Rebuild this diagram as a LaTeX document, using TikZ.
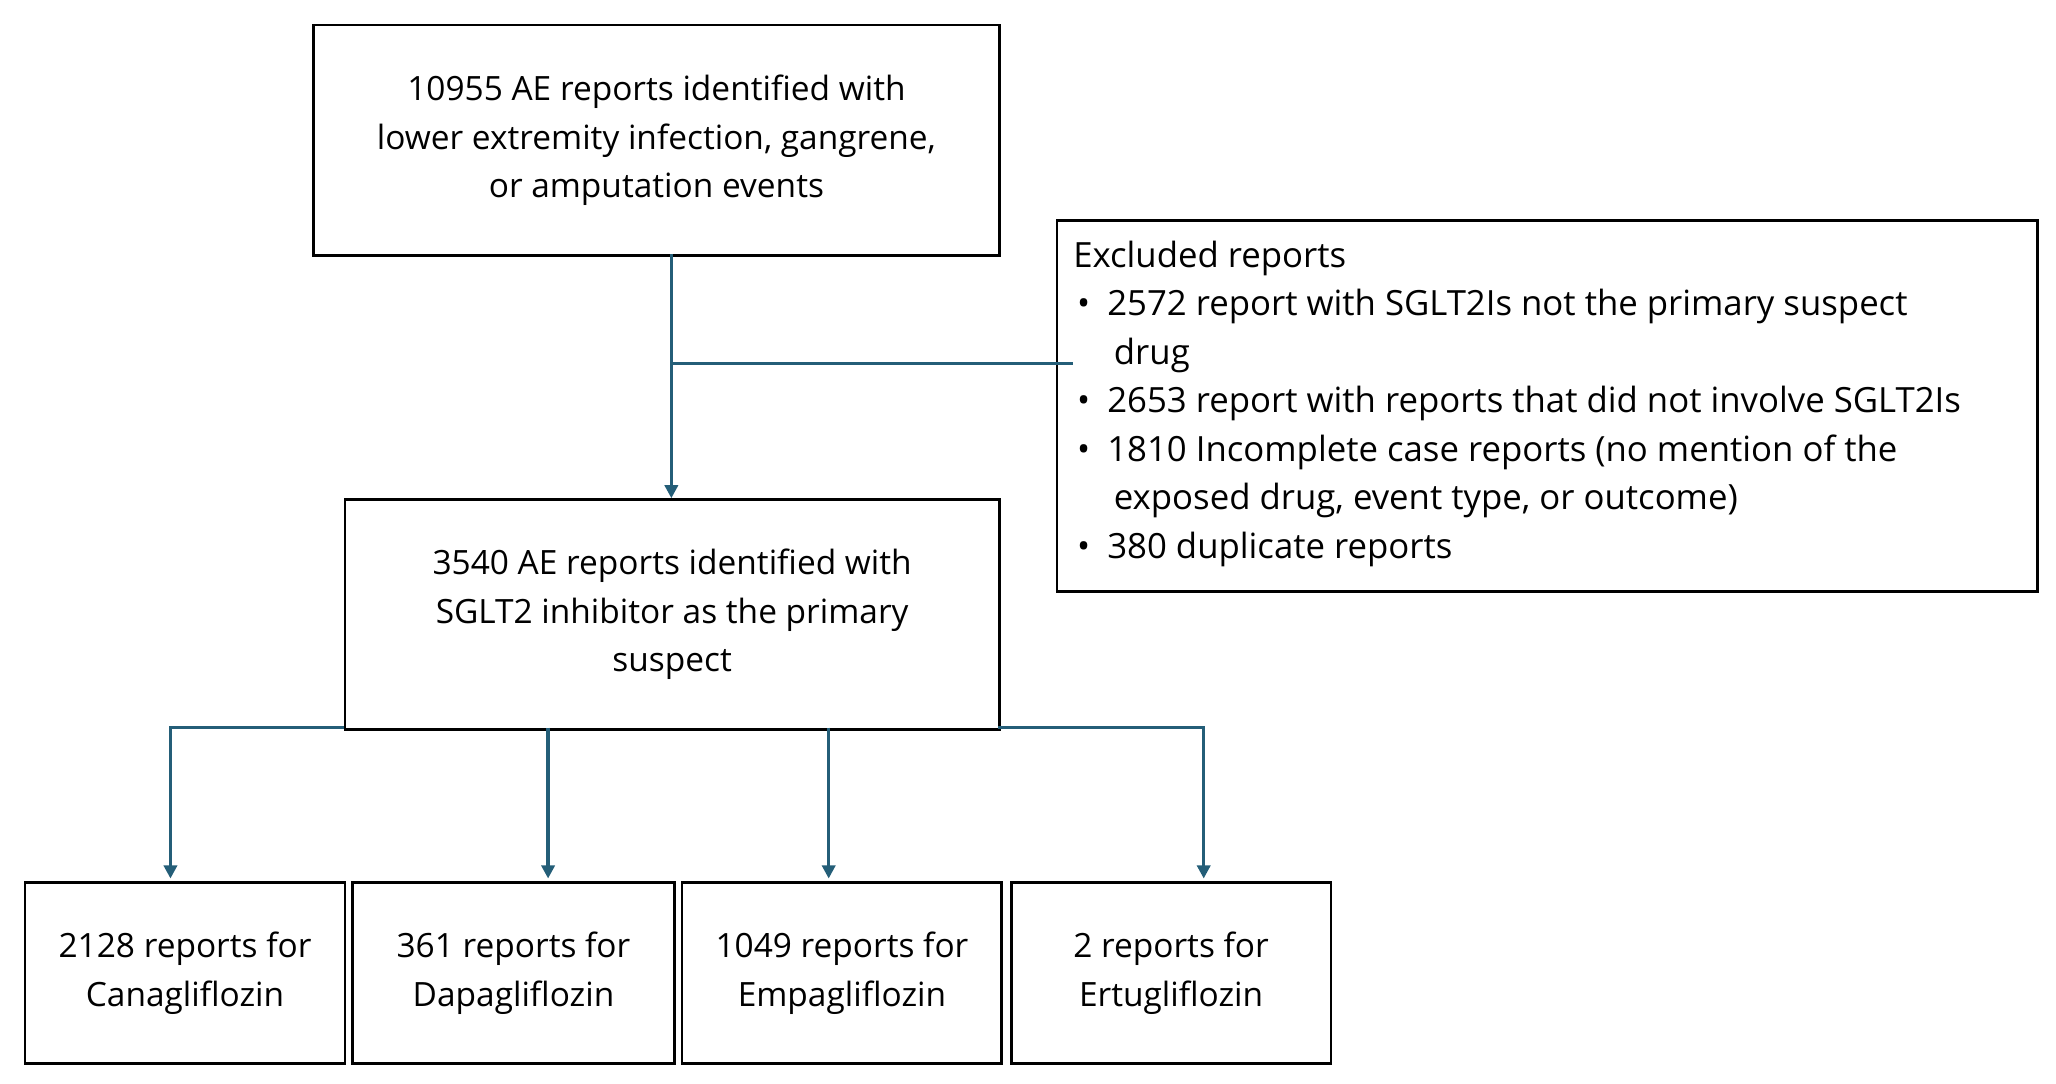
\documentclass[tikz,border=0pt]{standalone}
\usepackage{fontspec}
\setmainfont{Open Sans}
\usetikzlibrary{arrows.meta}
\begin{document}
\begin{tikzpicture}[x=1pt,y=-1pt,
  box/.style={draw=black,line width=2.2pt,inner sep=0pt,anchor=north west},
  txt/.style={align=center,font=\fontsize{25.5}{37}\selectfont,text=black}]
\useasboundingbox (0,0) rectangle (1568,826);
\definecolor{ln}{HTML}{245E78}
\tikzset{conn/.style={draw=ln,line width=2.5pt,line join=miter},
  tip/.style={-{Triangle[length=10pt,width=10pt]}}}
\node[box,minimum width=523,minimum height=176] (top) at (238,18) {};
\node[txt] (topt) at (top.center) {10955 AE reports identified with\\lower extremity infection, gangrene,\\or amputation events};
\node[box,minimum width=748,minimum height=283] (exc) at (805,167) {};
\node[txt,align=left,anchor=north west,font=\fontsize{26.5}{37}\selectfont] (exct) at (815,180) {Excluded reports\\
\hspace*{3pt}•\hspace{13pt}2572 report with SGLT2Is not the primary suspect\\
\hspace*{31pt}drug\\
\hspace*{3pt}•\hspace{13pt}2653 report with reports that did not involve SGLT2Is\\
\hspace*{3pt}•\hspace{13pt}1810 Incomplete case reports (no mention of the\\
\hspace*{31pt}exposed drug, event type, or outcome)\\
\hspace*{3pt}•\hspace{13pt}380 duplicate reports};
\node[box,minimum width=499,minimum height=175] (mid) at (262,380) {};
\node[txt] (midt) at (mid.center) {3540 AE reports identified with\\SGLT2 inhibitor as the primary\\suspect};
\node[box,minimum width=244,minimum height=138] (b1) at (18,672) {};
\node[box,minimum width=245,minimum height=138] (b2) at (268,672) {};
\node[box,minimum width=244,minimum height=138] (b3) at (519,672) {};
\node[box,minimum width=244,minimum height=138] (b4) at (770,672) {};
\node[txt] (t1) at (b1.center) {2128 reports for\\Canagliflozin};
\node[txt] (t2) at (b2.center) {361 reports for\\Dapagliflozin};
\node[txt] (t3) at (b3.center) {1049 reports for\\Empagliflozin};
\node[txt] (t4) at (b4.center) {2 reports for\\Ertugliflozin};
\coordinate (s) at (512,194);
\coordinate (j) at (512,277);
\coordinate (e) at (818,277);
\draw[conn,tip] (s) -- (512,380);
\draw[conn] (j) -- (e);
\draw[conn,tip] (262,555) -- (130,555) -- (130,670);
\draw[conn,tip] (761,555) -- (918,555) -- (918,670);
\draw[conn,tip] (418,555) -- (418,670);
\draw[conn,tip] (632,555) -- (632,670);
\end{tikzpicture}
\end{document}
